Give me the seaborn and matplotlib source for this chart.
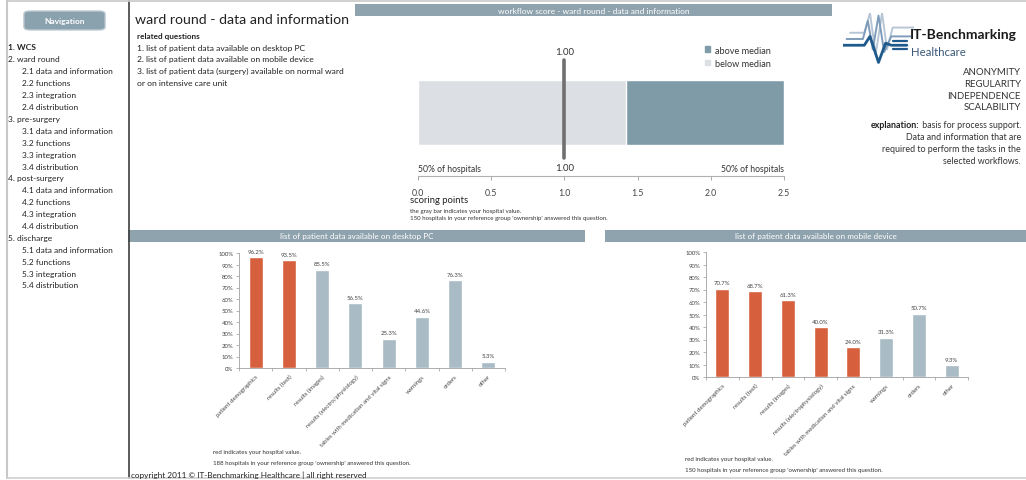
import matplotlib
matplotlib.use("Agg")
import matplotlib.pyplot as plt
from matplotlib.patches import Rectangle, FancyBboxPatch, Patch
from matplotlib.lines import Line2D
import seaborn as sns

# ---------------- data ----------------
score_max = 2.5
score_median = 1.42
hospital_score = 1.00
score_ticks = [0.0, 0.5, 1.0, 1.5, 2.0, 2.5]

categories_pc = ["patient demographics", "results (text)", "results (images)",
                 "results (electro/physiology)", "tables with medication and vital signs",
                 "warnings", "orders", "other"]
values_pc = [96.2, 93.5, 85.5, 56.5, 25.3, 44.6, 76.3, 5.3]
own_pc = [True, True, False, False, False, False, False, False]

categories_mobile = ["patient demographics", "results (text)", "results (images)",
                     "results (electrophysiology)", "tables with medication and vital signs",
                     "warnings", "orders", "other"]
values_mobile = [70.7, 68.7, 61.3, 40.0, 24.0, 31.3, 50.7, 9.3]
own_mobile = [True, True, True, True, True, False, False, False]

pct_ticks = list(range(0, 101, 10))

nav_items = ["1. WCS", "2. ward round", "2.1 data and information", "2.2 functions",
             "2.3 integration", "2.4 distribution", "3. pre-surgery",
             "3.1 data and information", "3.2 functions", "3.3 integration",
             "3.4 distribution", "4. post-surgery", "4.1 data and information",
             "4.2 functions", "4.3 integration", "4.4 distribution", "5. discharge",
             "5.1 data and information", "5.2 functions", "5.3 integration",
             "5.4 distribution"]

questions = ["1. list of patient data available on desktop PC",
             "2. list of patient data available on mobile device",
             "3. list of patient data (surgery) available on normal ward",
             "or on intensive care unit"]

principles = ["ANONYMITY", "REGULARITY", "INDEPENDENCE", "SCALABILITY"]
explanation = ["Data and information that are",
               "required to perform the tasks in the",
               "selected workflows."]

# ---------------- style ----------------
RED = "#d65f3d"
GREYBAR = "#a9bbc5"
HEADER = "#8fa3ae"
DARK_SCORE = "#809ba8"
LIGHT_SCORE = "#dcdfe4"
TXT = "#333333"

sns.set_theme(style="white")
plt.rcParams["font.family"] = ["Lato", "DejaVu Sans"]

W, H = 1026, 481
fig = plt.figure(figsize=(W / 100, H / 100), dpi=100)
fig.patch.set_facecolor("white")


def fx(x):
    return x / W


def fy(y):
    return 1 - y / H


def axes_px(x0, y0, x1, y1):
    return fig.add_axes([x0 / W, 1 - y1 / H, (x1 - x0) / W, (y1 - y0) / H])


def text(x, y, s, **kw):
    kw.setdefault("va", "center")
    kw.setdefault("color", TXT)
    return fig.text(fx(x), fy(y), s, **kw)


def rect(x0, y0, x1, y1, **kw):
    fig.add_artist(Rectangle((fx(x0), fy(y1)), (x1 - x0) / W, (y1 - y0) / H,
                             transform=fig.transFigure, **kw))


def hline(x0, x1, y, **kw):
    fig.add_artist(Line2D([fx(x0), fx(x1)], [fy(y), fy(y)], transform=fig.transFigure, **kw))


def vline(x, y0, y1, **kw):
    fig.add_artist(Line2D([fx(x), fx(x)], [fy(y0), fy(y1)], transform=fig.transFigure, **kw))


# ---------------- frame and navigation ----------------
vline(7, 2, 479, color="#c8c8c8", lw=1.5)
vline(128.5, 2, 479, color="#404040", lw=1.2)
hline(7, 1026, 2, color="#c8c8c8", lw=1.2)
hline(7, 1026, 479, color="#cfcfcf", lw=1.2)

fig.add_artist(FancyBboxPatch((fx(26), fy(30)), 77 / W, 17 / H,
                              boxstyle="round,pad=0.002,rounding_size=0.006",
                              transform=fig.transFigure, facecolor="#8aa1ae",
                              edgecolor="#b9c7cf", lw=1))
text(64.5, 21.5, "Navigation", ha="center", color="white", fontsize=6, fontweight="bold")

for i, item in enumerate(nav_items):
    y = 48 + 11.9 * i
    head = item.split(" ")[0]
    top_level = head.endswith(".")
    x = 8 if top_level else 22
    text(x, y, item, fontsize=6.0, fontweight="bold" if i == 0 else "normal", color="#222222")

# ---------------- title and questions ----------------
text(135, 20, "ward round - data and information", fontsize=10.2, color="#222222")
text(137, 36, "related questions", fontsize=5.9, fontweight="bold", color="#222222")
for i, q in enumerate(questions):
    text(137, 48 + 11.8 * i, q, fontsize=6.1, color="#222222")

# ---------------- workflow score ----------------
rect(355, 5, 832, 17, facecolor=HEADER, edgecolor="none")
text(593.5, 11.5, "workflow score - ward round - data and information",
     ha="center", color="white", fontsize=6)

ax_s = axes_px(418, 50, 784, 177)
sns.barplot(x=[score_max], y=["score"], orient="h", color=DARK_SCORE,
            width=0.8, saturation=1, ax=ax_s)
sns.barplot(x=[score_median], y=["score"], orient="h", color=LIGHT_SCORE,
            width=0.8, saturation=1, ax=ax_s)
ax_s.set_xlim(0, score_max)
ax_s.set_ylim(0.78, -0.78)
ax_s.set_xticks(score_ticks)
ax_s.set_xticklabels([f"{t:.1f}" for t in score_ticks], fontsize=6.3, color="#444444")
ax_s.tick_params(axis="x", length=3, width=0.6, color="#999999", pad=6, bottom=True)
ax_s.set_yticks([])
ax_s.set_xlabel("")
ax_s.set_ylabel("")
for side in ["top", "left", "right"]:
    ax_s.spines[side].set_visible(False)
ax_s.spines["bottom"].set_color("#b0b0b0")
ax_s.spines["bottom"].set_linewidth(0.8)
ax_s.patch.set_alpha(0)
ax_s.axvline(hospital_score, ymin=0.14, ymax=0.915, color="#707070", lw=2.6)
ax_s.text(hospital_score, -0.745, f"{hospital_score:.2f}", ha="center", va="center",
          fontsize=7, color="#333333", clip_on=False)
ax_s.text(hospital_score, 0.67, f"{hospital_score:.2f}", ha="center", va="center",
          fontsize=7, color="#333333", clip_on=False)
ax_s.text(0, 0.02, "50% of hospitals", transform=ax_s.get_xaxis_transform(),
          ha="left", va="bottom", fontsize=6.2, color="#333333")
ax_s.text(score_max, 0.02, "50% of hospitals", transform=ax_s.get_xaxis_transform(),
          ha="right", va="bottom", fontsize=6.2, color="#333333")
ax_s.legend(handles=[Patch(color=DARK_SCORE, label="above median"),
                     Patch(color=LIGHT_SCORE, label="below median")],
            loc="upper left", bbox_to_anchor=(fx(700), fy(42)),
            bbox_transform=fig.transFigure, frameon=False, fontsize=6.6,
            handlelength=0.6, handleheight=0.6, handletextpad=0.5,
            labelspacing=0.45, borderpad=0, labelcolor="#333333")

text(410, 201, "scoring points", fontsize=6.8, color="#222222")
text(410, 211.5, "the gray bar indicates your hospital value.", fontsize=4.4)
text(410, 218.5, "150 hospitals in your reference group 'ownership' answered this question.",
     fontsize=4.4)

# ---------------- logo and principles ----------------
ax_logo = axes_px(843, 14, 914, 66)
ax_logo.set_xlim(0, 1)
ax_logo.set_ylim(0, 1)
ax_logo.axis("off")
logo_light = ([0.1, 0.3, 0.38, 0.46, 0.55, 0.62, 0.7, 1.0],
              [0.62, 0.62, 1.0, 0.2, 1.0, 0.3, 0.72, 0.72])
logo_mid = ([0.05, 0.28, 0.35, 0.42, 0.5, 0.58, 0.68, 0.95],
            [0.5, 0.5, 0.85, 0.3, 0.95, 0.25, 0.55, 0.55])
logo_dark = ([0.0, 0.3, 0.38, 0.5, 0.6, 0.68, 0.9],
             [0.38, 0.38, 0.55, 0.05, 0.42, 0.38, 0.38])
ax_logo.plot(*logo_light, color="#b7c6d6", lw=1.4)
ax_logo.plot(*logo_mid, color="#7e9cba", lw=1.4)
ax_logo.plot(*logo_dark, color="#1f5a8c", lw=2.0)
for yy in (0.3, 0.46):
    ax_logo.plot([0.7, 0.9], [yy, yy], color="#1f5a8c", lw=1.6)

text(910, 35, "IT-Benchmarking", fontsize=10, fontweight="bold", color="#1a1a1a")
text(911, 52, "Healthcare", fontsize=8.2, color="#3a5878")
for i, p in enumerate(principles):
    text(1021, 73 + 11.6 * i, p, ha="right", fontsize=6.9, color="#333333")

expl_rest = text(1021, 126, " basis for process support.", ha="right", fontsize=6.4)
renderer = fig.canvas.get_renderer()
rest_left = expl_rest.get_window_extent(renderer).x0
fig.text(rest_left / fig.bbox.width, fy(126), "explanation:", ha="right", va="center",
         fontsize=6.4, fontweight="bold", color="#222222")
for i, line in enumerate(explanation):
    text(1021, 138 + 11.7 * i, line, ha="right", fontsize=6.4)


# ---------------- column charts ----------------
def column_chart(box, cats, vals, own, title, header, notes, note_xy):
    hx0, hx1 = header
    rect(hx0, 231, hx1, 243, facecolor=HEADER, edgecolor="none")
    text((hx0 + hx1) / 2, 237, title, ha="center", color="white", fontsize=5.9)

    ax = axes_px(*box)
    palette = {c: (RED if o else GREYBAR) for c, o in zip(cats, own)}
    sns.barplot(x=cats, y=vals, hue=cats, palette=palette, legend=False,
                width=0.42, saturation=1, ax=ax)
    ax.set_ylim(0, 100)
    ax.set_xlim(-0.5, len(cats) - 0.5)
    ax.set_yticks(pct_ticks)
    ax.set_yticklabels([f"{t}%" for t in pct_ticks], fontsize=4.3, color="#444444")
    ax.set_xticks(range(len(cats)))
    ax.set_xticklabels(cats, rotation=45, ha="right", rotation_mode="anchor",
                       fontsize=4.3, color="#444444")
    ax.set_xticks([i - 0.5 for i in range(len(cats) + 1)], minor=True)
    ax.tick_params(axis="x", which="major", length=0, pad=4)
    ax.tick_params(axis="x", which="minor", length=2, width=0.5, color="#999999", bottom=True)
    ax.tick_params(axis="y", length=2, width=0.5, color="#999999", pad=2, left=True)
    ax.set_xlabel("")
    ax.set_ylabel("")
    for side in ["top", "right"]:
        ax.spines[side].set_visible(False)
    for side in ["left", "bottom"]:
        ax.spines[side].set_color("#a0a0a0")
        ax.spines[side].set_linewidth(0.6)
    ax.patch.set_alpha(0)
    for cont in ax.containers:
        ax.bar_label(cont, labels=[f"{v:.1f}%" for v in cont.datavalues],
                     padding=2.5, fontsize=4.3, color="#444444", clip_on=False)
    nx, ny = note_xy
    for i, n in enumerate(notes):
        text(nx, ny + 10.5 * i, n, fontsize=4.4)


column_chart((239, 254, 505, 369), categories_pc, values_pc, own_pc,
             "list of patient data available on desktop PC", (128, 585),
             ["red indicates your hospital value.",
              "188 hospitals in your reference group 'ownership' answered this question."],
             (213, 453))
column_chart((706, 253, 968, 378), categories_mobile, values_mobile, own_mobile,
             "list of patient data available on mobile device", (605, 1026),
             ["red indicates your hospital value.",
              "150 hospitals in your reference group 'ownership' answered this question."],
             (685, 460))

text(131, 475, "copyright 2011 \u00a9 IT-Benchmarking Healthcare | all right reserved",
     fontsize=5.9, color="#222222")

fig.savefig("out.png", dpi=100, facecolor="white")
